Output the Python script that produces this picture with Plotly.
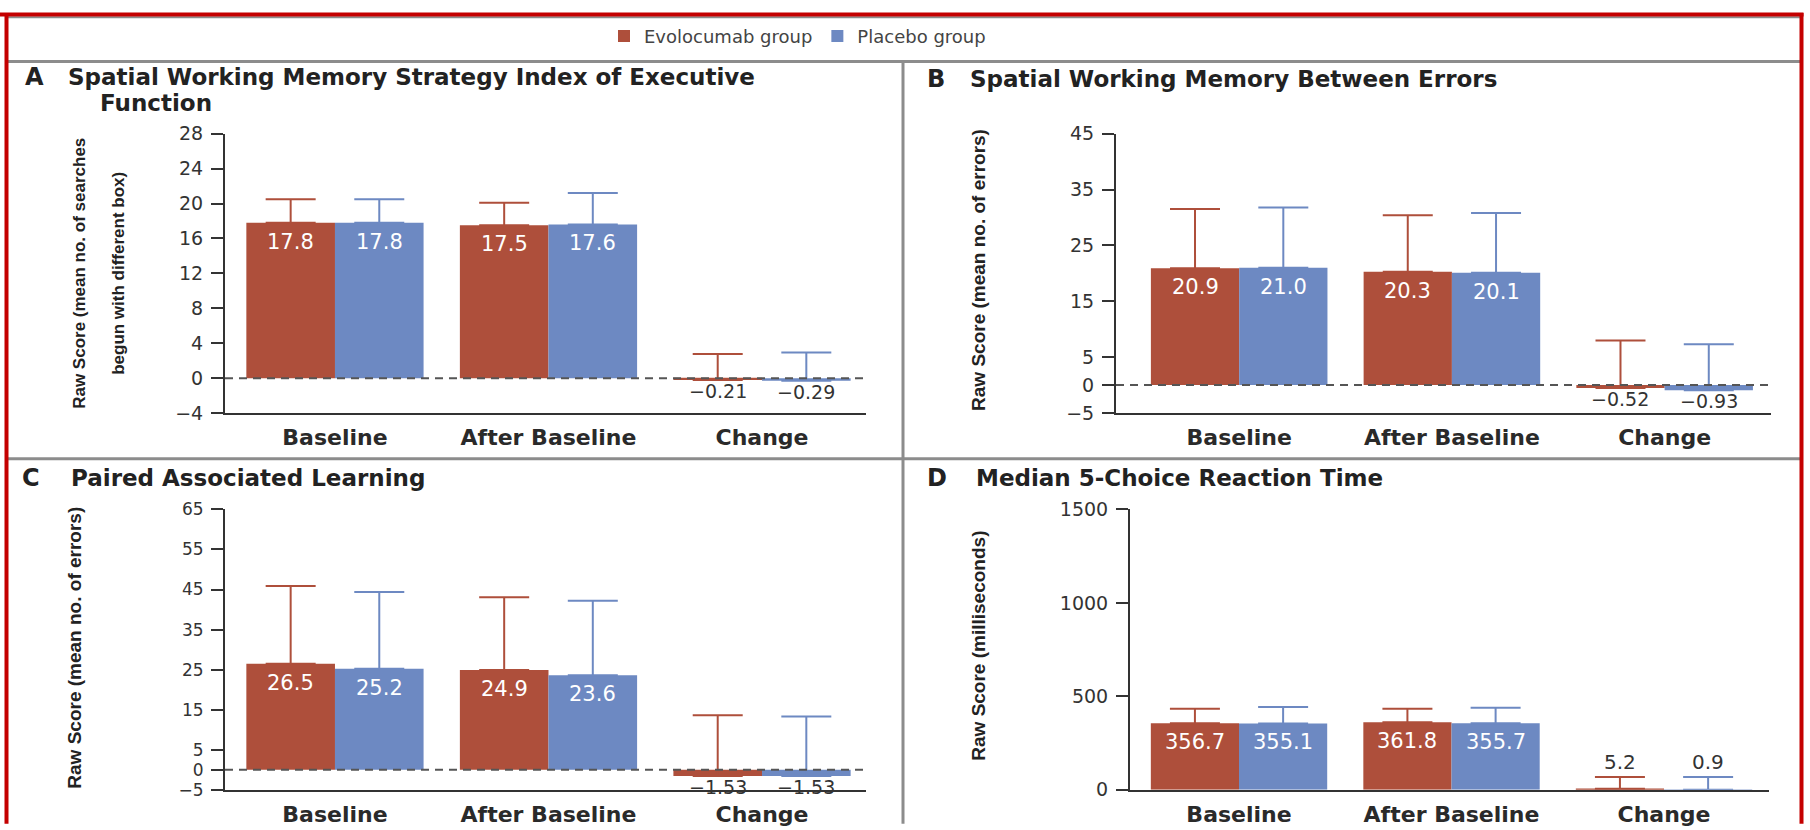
import plotly.graph_objects as go

W, H = 1810, 830

# ---------------- data ----------------
categories = ["Baseline", "After Baseline", "Change"]
groups = ["Evolocumab group", "Placebo group"]

evo_A = [17.8, 17.5, -0.21]
pla_A = [17.8, 17.6, -0.29]
evo_A_top = [20.5, 20.1, 2.75]
pla_A_top = [20.5, 21.2, 2.94]
ticks_A = [-4, 0, 4, 8, 12, 16, 20, 24, 28]

evo_B = [20.9, 20.3, -0.52]
pla_B = [21.0, 20.1, -0.93]
evo_B_top = [31.5, 30.4, 8.0]
pla_B_top = [31.8, 30.8, 7.3]
ticks_B = [-5, 0, 5, 15, 25, 35, 45]

evo_C = [26.5, 24.9, -1.53]
pla_C = [25.2, 23.6, -1.53]
evo_C_top = [45.9, 43.1, 13.6]
pla_C_top = [44.4, 42.2, 13.3]
ticks_C = [-5, 0, 5, 15, 25, 35, 45, 55, 65]

evo_D = [356.7, 361.8, 5.2]
pla_D = [355.1, 355.7, 0.9]
evo_D_top = [434, 434, 69]
pla_D_top = [443, 439, 69]
ticks_D = [0, 500, 1000, 1500]

# ---------------- style ----------------
RED = "#AE4F3B"
BLUE = "#6D89C2"
AX = "#333333"
GRAY = "#8C8C8C"
FONT = "DejaVu Sans"
YT_FONT = "Liberation Sans"
TITLE_SIZE = 23

panels = [
    dict(letter="A", title="Spatial Working Memory Strategy Index of Executive", title2="Function",
         ytitle=["Raw Score (mean no. of searches", "begun with different box)"], ytitle_size=17,
         evo=evo_A, pla=pla_A, evo_top=evo_A_top, pla_top=pla_A_top, ticks=ticks_A, tick_size=19,
         yrange=[-4, 28], xpx=[225, 866], ypx=[126, 413], xrange=[-0.515, 2.487],
         letter_x=23, title_x=66, title_y=68, ytitle_x=[80, 119], ytitle_y=270),
    dict(letter="B", title="Spatial Working Memory Between Errors", title2=None,
         ytitle=["Raw Score (mean no. of errors)"], ytitle_size=19,
         evo=evo_B, pla=pla_B, evo_top=evo_B_top, pla_top=pla_B_top, ticks=ticks_B, tick_size=19,
         yrange=[-5, 45], xpx=[1116, 1771], ypx=[126, 413], xrange=[-0.579, 2.5],
         letter_x=925, title_x=968, title_y=70, ytitle_x=[979], ytitle_y=266),
    dict(letter="C", title="Paired Associated Learning", title2=None,
         ytitle=["Raw Score (mean no. of errors)"], ytitle_size=19,
         evo=evo_C, pla=pla_C, evo_top=evo_C_top, pla_top=pla_C_top, ticks=ticks_C, tick_size=17,
         yrange=[-5, 65], xpx=[225, 866], ypx=[512, 800], xrange=[-0.515, 2.487],
         letter_x=20, title_x=69, title_y=480, ytitle_x=[75], ytitle_y=654),
    dict(letter="D", title="Median 5-Choice Reaction Time", title2=None,
         ytitle=["Raw Score (milliseconds)"], ytitle_size=19,
         evo=evo_D, pla=pla_D, evo_top=evo_D_top, pla_top=pla_D_top, ticks=ticks_D, tick_size=19,
         yrange=[0, 1500], xpx=[1130, 1769], ypx=[512, 800], xrange=[-0.513, 2.494],
         letter_x=925, title_x=974, title_y=480, ytitle_x=[979], ytitle_y=652),
]

BARGAP = 0.17
HALF = (1 - BARGAP) / 4.0  # half of one bar width (category units)


def fmt(v):
    if v < 0:
        return "\u2212" + f"{abs(v):.2f}"
    return f"{v:.1f}"


def tfmt(v):
    return ("\u2212" + str(abs(v))) if v < 0 else str(v)


def px_x(p):
    return p / W


def px_y(p):
    return 1 - p / H


fig = go.Figure()
layout = dict()
annotations = []
shapes = []

x_idx = list(range(len(categories)))

for i, p in enumerate(panels):
    n = "" if i == 0 else str(i + 1)
    xa, ya = "x" + n, "y" + n
    for vals, tops, color, name, sgn in [
        (p["evo"], p["evo_top"], RED, groups[0], -1),
        (p["pla"], p["pla_top"], BLUE, groups[1], 1),
    ]:
        fig.add_trace(go.Bar(
            x=x_idx, y=vals, name=name, marker=dict(color=color, line=dict(width=0)),
            xaxis=xa, yaxis=ya, showlegend=(i == 0), legendgroup=name,
            error_y=dict(type="data", symmetric=False,
                         array=[t - v for t, v in zip(tops, vals)],
                         arrayminus=[0] * len(vals),
                         color=color, thickness=2, width=25),
        ))
        span = p["yrange"][1] - p["yrange"][0]
        for k, (v, t) in enumerate(zip(vals, tops)):
            xpos = x_idx[k] + sgn * HALF
            if v > 0.2 * span:
                annotations.append(dict(x=xpos, y=v, xref=xa, yref=ya, text=fmt(v), showarrow=False,
                                        yanchor="top", yshift=-5,
                                        font=dict(family=FONT, size=21, color="#FFFFFF")))
            elif v < 0:
                annotations.append(dict(x=xpos, y=v, xref=xa, yref=ya, text=fmt(v), showarrow=False,
                                        yanchor="top", yshift=2,
                                        font=dict(family=FONT, size=19, color="#333333")))
            else:
                annotations.append(dict(x=xpos, y=t, xref=xa, yref=ya, text=fmt(v), showarrow=False,
                                        yanchor="bottom", yshift=1,
                                        font=dict(family=FONT, size=20, color="#333333")))

    layout["xaxis" + n] = dict(
        domain=[px_x(p["xpx"][0]), px_x(p["xpx"][1])], anchor=ya, range=p["xrange"],
        tickvals=x_idx, ticktext=categories, ticks="", showline=True, linecolor=AX, linewidth=2,
        showgrid=False, zeroline=False, fixedrange=True, ticklabelstandoff=4,
        tickfont=dict(family=FONT, size=22, color="#2a2a2a", weight="bold"),
    )
    layout["yaxis" + n] = dict(
        domain=[px_y(p["ypx"][1]), px_y(p["ypx"][0])], anchor=xa, range=p["yrange"],
        tickvals=p["ticks"], ticktext=[tfmt(t) for t in p["ticks"]], ticks="outside", ticklen=12,
        tickwidth=2, tickcolor=AX, showline=True, linecolor=AX, linewidth=2, showgrid=False,
        zeroline=False, fixedrange=True, ticklabelstandoff=4,
        tickfont=dict(family=FONT, size=p["tick_size"], color="#333333"),
    )

    if p["yrange"][0] < 0:
        shapes.append(dict(type="line", xref=xa + " domain", yref=ya, x0=0, x1=1, y0=0, y1=0,
                           line=dict(color="#555555", width=2, dash="8px,6px"), layer="above"))

    # panel letter and title
    annotations.append(dict(x=px_x(p["letter_x"]), y=px_y(p["title_y"]), xref="paper", yref="paper",
                            text="<b>" + p["letter"] + "</b>", showarrow=False, xanchor="left",
                            yanchor="middle", font=dict(family=FONT, size=TITLE_SIZE + 1, color="#222222")))
    annotations.append(dict(x=px_x(p["title_x"]), y=px_y(p["title_y"]), xref="paper", yref="paper",
                            text="<b>" + p["title"] + "</b>", showarrow=False, xanchor="left",
                            yanchor="middle", font=dict(family=FONT, size=TITLE_SIZE, color="#222222")))
    if p["title2"]:
        annotations.append(dict(x=px_x(98), y=px_y(p["title_y"] + 27), xref="paper", yref="paper",
                                text="<b>" + p["title2"] + "</b>", showarrow=False, xanchor="left",
                                yanchor="middle", font=dict(family=FONT, size=TITLE_SIZE, color="#222222")))
    for line, lx in zip(p["ytitle"], p["ytitle_x"]):
        annotations.append(dict(x=px_x(lx), y=px_y(p["ytitle_y"]), xref="paper", yref="paper",
                                text=line, showarrow=False, textangle=-90, xanchor="center",
                                yanchor="middle", align="center",
                                font=dict(family=YT_FONT, size=p["ytitle_size"], color="#222222",
                                          weight="bold")))

# panel separators (gray) and outer red frame
shapes += [
    dict(type="line", xref="paper", yref="paper", x0=px_x(8), x1=px_x(1800), y0=px_y(6.5), y1=px_y(6.5),
         line=dict(color=GRAY, width=2)),
    dict(type="line", xref="paper", yref="paper", x0=px_x(8), x1=px_x(1800), y0=px_y(52), y1=px_y(52),
         line=dict(color=GRAY, width=3)),
    dict(type="line", xref="paper", yref="paper", x0=px_x(8), x1=px_x(1800), y0=px_y(460), y1=px_y(460),
         line=dict(color=GRAY, width=3)),
    dict(type="line", xref="paper", yref="paper", x0=px_x(903), x1=px_x(903), y0=px_y(52), y1=px_y(835),
         line=dict(color=GRAY, width=3)),
    dict(type="line", xref="paper", yref="paper", x0=0, x1=px_x(1803.5), y0=px_y(3.5), y1=px_y(3.5),
         line=dict(color="#C40000", width=4)),
    dict(type="line", xref="paper", yref="paper", x0=px_x(6.5), x1=px_x(6.5), y0=px_y(2), y1=px_y(835),
         line=dict(color="#C40000", width=4)),
    dict(type="line", xref="paper", yref="paper", x0=px_x(1801.5), x1=px_x(1801.5), y0=px_y(2), y1=px_y(835),
         line=dict(color="#C40000", width=4)),
]

fig.update_layout(
    width=W, height=H, margin=dict(l=0, r=0, t=0, b=0),
    paper_bgcolor="white", plot_bgcolor="white",
    barmode="group", bargap=BARGAP, bargroupgap=0,
    showlegend=True,
    legend=dict(orientation="h", x=px_x(604), xanchor="left", y=px_y(26), yanchor="middle",
                font=dict(family=FONT, size=18, color="#444444"), bgcolor="rgba(0,0,0,0)",
                itemclick=False, itemdoubleclick=False),
    annotations=annotations, shapes=shapes,
    **layout,
)

fig.write_html("out.html")
